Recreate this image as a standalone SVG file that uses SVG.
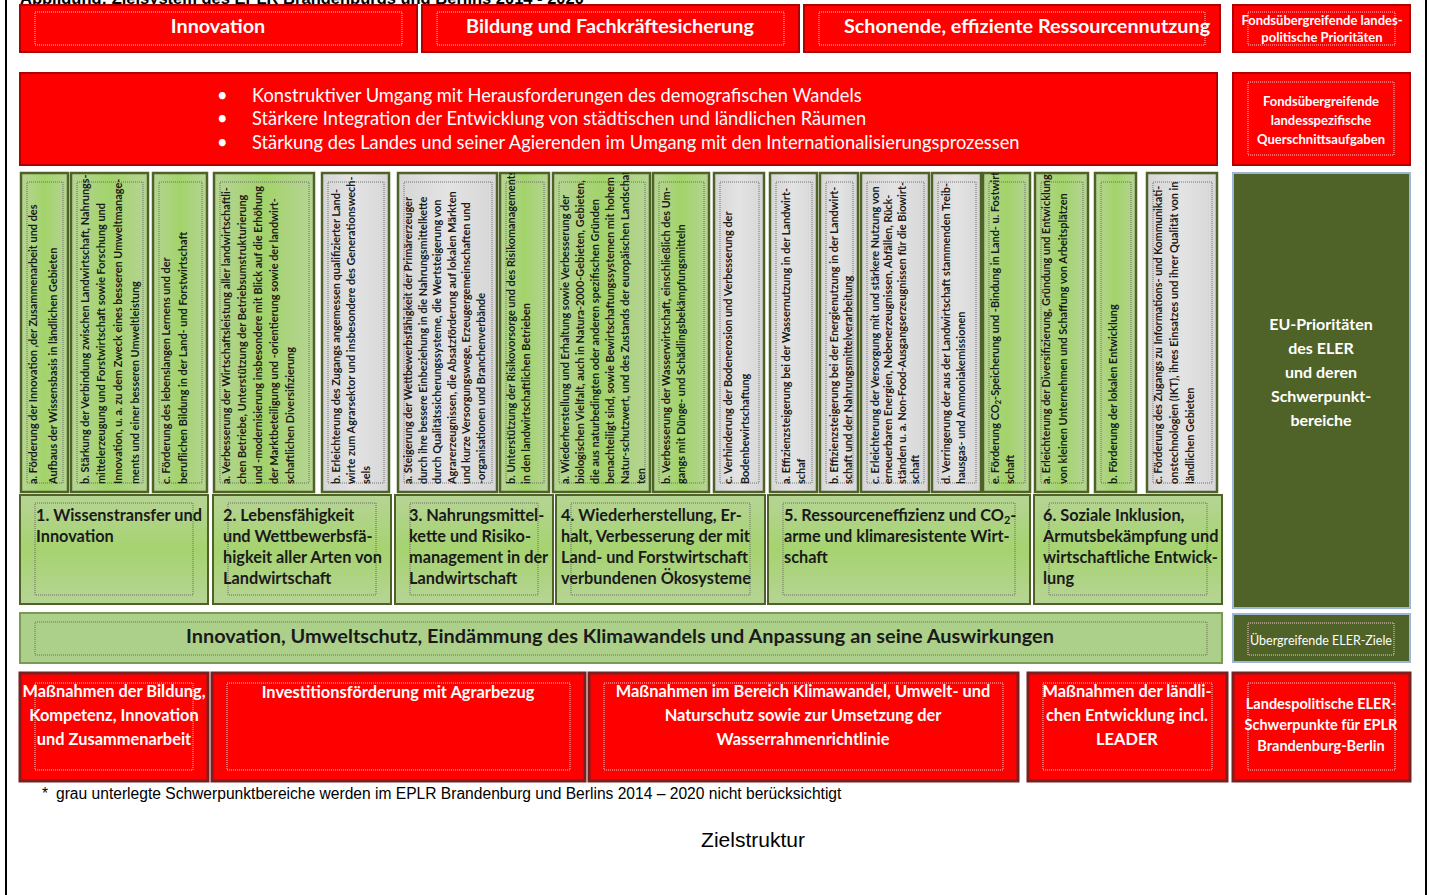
<svg xmlns="http://www.w3.org/2000/svg" width="1429" height="895" viewBox="0 0 1429 895">
<style>
.f{font-family:Lato,"Open Sans","Liberation Sans",sans-serif}
.red{fill:#ff0000;stroke:#b00000;stroke-width:2}
.redb{fill:#ff0000;stroke:#7b2020;stroke-width:3}
.dotw{fill:none;stroke:#f5cccc;stroke-width:1;stroke-dasharray:1 1}
.dotk{fill:none;stroke:#555;stroke-width:0.8;stroke-dasharray:1 1}
.cg{fill:url(#gh);stroke:#4f6228;stroke-width:2.5}
.cy{fill:url(#gy);stroke:#4f6228;stroke-width:2.5}
.pg{fill:url(#gv);stroke:#4f6228;stroke-width:2}
.wt{fill:#fff}
.dk{fill:#1a1a1a}
.vt{font-family:Lato,"Open Sans","Liberation Sans",sans-serif;font-weight:700;font-size:10.9px;fill:#1a1a1a}
.hd{font-size:19.8px;font-weight:700;text-anchor:middle}
.pt{font-size:16.3px;font-weight:700}
.bt{font-size:16.4px;font-weight:700;text-anchor:middle}
.sm{font-size:13px;font-weight:700;text-anchor:middle}
</style>
<defs>
<linearGradient id="gh" x1="0" x2="1" y1="0" y2="0"><stop offset="0" stop-color="#b6d495"/><stop offset="0.5" stop-color="#a3d36b"/><stop offset="1" stop-color="#b6d495"/></linearGradient>
<linearGradient id="gv" x1="0" x2="0" y1="0" y2="1"><stop offset="0" stop-color="#b6d495"/><stop offset="0.5" stop-color="#a6d370"/><stop offset="1" stop-color="#b6d495"/></linearGradient>
<linearGradient id="gy" x1="0" x2="1" y1="0" y2="0"><stop offset="0" stop-color="#d6d6d6"/><stop offset="0.5" stop-color="#e3e3e3"/><stop offset="1" stop-color="#d6d6d6"/></linearGradient>
</defs>
<rect x="0" y="0" width="1429" height="895" fill="#fff"/>
<rect x="6" y="-10" width="1420" height="920" fill="none" stroke="#000" stroke-width="2"/>
<text x="20" y="4" font-family="Liberation Sans, Arial, sans-serif" font-size="16.5" font-weight="700" fill="#000">Abbildung: Zielsystem des EPLR Brandenburgs und Berlins 2014 - 2020</text>

<g id="top-innovation"><rect class="red" x="20" y="5" width="397" height="47"/><rect class="dotw" x="35" y="12" width="367" height="33"/><text class="f wt hd" x="218" y="33">Innovation</text></g>
<g id="top-bildung"><rect class="red" x="422" y="5" width="377" height="47"/><rect class="dotw" x="437" y="12" width="347" height="33"/><text class="f wt hd" x="610" y="33">Bildung und Fachkräftesicherung</text></g>
<g id="top-ressourcen"><rect class="red" x="804" y="5" width="416" height="47"/><rect class="dotw" x="819" y="12" width="386" height="33"/><text class="f wt hd" x="1027" y="33">Schonende, effiziente Ressourcennutzung</text></g>
<g id="lbl-prioritaeten"><rect class="red" x="1233" y="5" width="177" height="47"/><rect class="dotw" x="1248" y="12" width="147" height="33"/><text class="f wt sm" x="1322" y="24.5">Fondsübergreifende  landes-</text><text class="f wt sm" x="1322" y="41.5">politische Prioritäten</text></g>

<g id="querschnitt"><rect class="red" x="20" y="73" width="1197" height="92"/>
<g class="f wt" font-size="18.3">
<text x="217" y="102">•</text><text x="252" y="102">Konstruktiver Umgang mit Herausforderungen des demografischen Wandels</text>
<text x="217" y="125">•</text><text x="252" y="125">Stärkere Integration der Entwicklung von städtischen und ländlichen Räumen</text>
<text x="217" y="149">•</text><text x="252" y="149">Stärkung des Landes und seiner Agierenden im Umgang mit den Internationalisierungsprozessen</text>
</g></g>
<g id="lbl-querschnitt"><rect class="red" x="1233" y="73" width="177" height="92"/><rect class="dotw" x="1248" y="82" width="146" height="73"/><text class="f wt sm" x="1321" y="105.5">Fondsübergreifende</text><text class="f wt sm" x="1321" y="124.5">landesspezifische</text><text class="f wt sm" x="1321" y="143.5">Querschnittsaufgaben</text></g>

<g id="sb-1a"><rect class="cg" x="21" y="173" width="47" height="319"/><rect class="dotk" x="27" y="182" width="36" height="301"/><svg x="21" y="173" width="47" height="319"><text class="vt" transform="translate(16,311) rotate(-90)"><tspan x="0" y="0">a. Förderung der Innovation ,der Zusammenarbeit und des</tspan><tspan x="0" y="20">Aufbaus der Wissensbasis in ländlichen Gebieten</tspan></text></svg></g>
<g id="sb-1b"><rect class="cg" x="71" y="173" width="77" height="319"/><rect class="dotk" x="77" y="182" width="66" height="301"/><svg x="71" y="173" width="77" height="319"><text class="vt" transform="translate(17.5,311) rotate(-90)"><tspan x="0" y="0">b. Stärkung der Verbindung  zwischen Landwirtschaft, Nahrungs-</tspan><tspan x="0" y="16.7">mittelerzeugung und Forstwirtschaft sowie Forschung und</tspan><tspan x="0" y="33.4">Innovation, u. a. zu dem Zweck eines besseren Umweltmanage-</tspan><tspan x="0" y="50.1">ments und einer besseren Umweltleistung</tspan></text></svg></g>
<g id="sb-1c"><rect class="cg" x="153" y="173" width="54" height="319"/><rect class="dotk" x="159" y="182" width="43" height="301"/><svg x="153" y="173" width="54" height="319"><text class="vt" transform="translate(17,311) rotate(-90)"><tspan x="0" y="0">c. Förderung des lebenslangen Lernens und der</tspan><tspan x="0" y="17">beruflichen Bildung in der Land- und Forstwirtschaft</tspan></text></svg></g>
<g id="sb-2a"><rect class="cg" x="214" y="173" width="100" height="319"/><rect class="dotk" x="220" y="182" width="89" height="301"/><svg x="214" y="173" width="100" height="319"><text class="vt" transform="translate(16,311) rotate(-90)"><tspan x="0" y="0">a. Verbesserung der Wirtschaftsleistung aller landwirtschaftli-</tspan><tspan x="0" y="16">chen Betriebe, Unterstützung der Betriebsumstrukturierung</tspan><tspan x="0" y="32">und -modernisierung insbesondere mit Blick auf die Erhöhung</tspan><tspan x="0" y="48">der Marktbeteiligung und -orientierung sowie der landwirt-</tspan><tspan x="0" y="64">schaftlichen Diversifizierung</tspan></text></svg></g>
<g id="sb-2b"><rect class="cy" x="322" y="173" width="67" height="319"/><rect class="dotk" x="328" y="182" width="56" height="301"/><svg x="322" y="173" width="67" height="319"><text class="vt" transform="translate(18,311) rotate(-90)"><tspan x="0" y="0">b. Erleichterung des Zugangs angemessen qualifizierter Land-</tspan><tspan x="0" y="15">wirte zum Agrarsektor und insbesondere des Generationswech-</tspan><tspan x="0" y="30">sels</tspan></text></svg></g>
<g id="sb-3a"><rect class="cy" x="398" y="173" width="99" height="319"/><rect class="dotk" x="404" y="182" width="88" height="301"/><svg x="398" y="173" width="99" height="319"><text class="vt" transform="translate(14,311) rotate(-90)"><tspan x="0" y="0">a. Steigerung der Wettbewerbsfähigkeit der Primärerzeuger</tspan><tspan x="0" y="14.5">durch ihre bessere Einbeziehung in die Nahrungsmittelkette</tspan><tspan x="0" y="29">durch Qualitätssicherungssysteme, die Wertsteigerung von</tspan><tspan x="0" y="43.5">Agrarerzeugnissen, die Absatzförderung  auf lokalen Märkten</tspan><tspan x="0" y="58">und kurze Versorgungswege, Erzeugergemeinschaften und</tspan><tspan x="0" y="72.5">-organisationen und Branchenverbände</tspan></text></svg></g>
<g id="sb-3b"><rect class="cg" x="500" y="173" width="49" height="319"/><rect class="dotk" x="506" y="182" width="38" height="301"/><svg x="500" y="173" width="49" height="319"><text class="vt" transform="translate(15,311) rotate(-90)"><tspan x="0" y="0">b. Unterstützung der Risikovorsorge und des Risikomanagements</tspan><tspan x="0" y="15">in den landwirtschaftlichen Betrieben</tspan></text></svg></g>
<g id="sb-4a"><rect class="cg" x="553" y="173" width="97" height="319"/><rect class="dotk" x="559" y="182" width="86" height="301"/><svg x="553" y="173" width="97" height="319"><text class="vt" transform="translate(15.5,311) rotate(-90)"><tspan x="0" y="0">a. Wiederherstellung und Erhaltung sowie Verbesserung der</tspan><tspan x="0" y="15.2">biologischen Vielfalt, auch in Natura-2000-Gebieten, Gebieten,</tspan><tspan x="0" y="30.4">die aus naturbedingten oder anderen spezifischen Gründen</tspan><tspan x="0" y="45.6">benachteiligt sind, sowie Bewirtschaftungssystemen mit hohem</tspan><tspan x="0" y="60.8">Natur-schutzwert, und des Zustands der europäischen Landschaf-</tspan><tspan x="0" y="76">ten</tspan></text></svg></g>
<g id="sb-4b"><rect class="cg" x="653" y="173" width="56" height="319"/><rect class="dotk" x="659" y="182" width="45" height="301"/><svg x="653" y="173" width="56" height="319"><text class="vt" transform="translate(17,311) rotate(-90)"><tspan x="0" y="0">b. Verbesserung der Wasserwirtschaft, einschließlich des Um-</tspan><tspan x="0" y="15">gangs mit Dünge- und Schädlingsbekämpfungsmitteln</tspan></text></svg></g>
<g id="sb-4c"><rect class="cy" x="714" y="173" width="50" height="319"/><rect class="dotk" x="720" y="182" width="39" height="301"/><svg x="714" y="173" width="50" height="319"><text class="vt" transform="translate(18,311) rotate(-90)"><tspan x="0" y="0">c. Verhinderung der Bodenerosion und Verbesserung der</tspan><tspan x="0" y="16.5">Bodenbewirtschaftung</tspan></text></svg></g>
<g id="sb-5a"><rect class="cy" x="770" y="173" width="47" height="319"/><rect class="dotk" x="776" y="182" width="36" height="301"/><svg x="770" y="173" width="47" height="319"><text class="vt" transform="translate(20,311) rotate(-90)"><tspan x="0" y="0">a. Effizienzsteigerung bei der Wassernutzung in der Landwirt-</tspan><tspan x="0" y="15">schaf</tspan></text></svg></g>
<g id="sb-5b"><rect class="cy" x="820" y="173" width="38" height="319"/><rect class="dotk" x="826" y="182" width="27" height="301"/><svg x="820" y="173" width="38" height="319"><text class="vt" transform="translate(17.5,311) rotate(-90)"><tspan x="0" y="0">b. Effizienzsteigerung bei der Energienutzung in der Landwirt-</tspan><tspan x="0" y="14.5">schaft und der Nahrungsmittelverarbeitung</tspan></text></svg></g>
<g id="sb-5c"><rect class="cy" x="861" y="173" width="68" height="319"/><rect class="dotk" x="867" y="182" width="57" height="301"/><svg x="861" y="173" width="68" height="319"><text class="vt" font-size="10.4" transform="translate(17.5,311) rotate(-90)"><tspan x="0" y="0">c. Erleichterung der Versorgung mit und stärkere  Nutzung von</tspan><tspan x="0" y="13.5">erneuerbaren Energien,  Nebenerzeugnissen, Abfällen, Rück-</tspan><tspan x="0" y="27">ständen u. a. Non-Food-Ausgangserzeugnissen für die Biowirt-</tspan><tspan x="0" y="40.5">schaft</tspan></text></svg></g>
<g id="sb-5d"><rect class="cy" x="932" y="173" width="49" height="319"/><rect class="dotk" x="938" y="182" width="38" height="301"/><svg x="932" y="173" width="49" height="319"><text class="vt" transform="translate(18,311) rotate(-90)"><tspan x="0" y="0">d. Verringerung der aus der Landwirtschaft stammenden Treib-</tspan><tspan x="0" y="15">hausgas- und Ammoniakemissionen</tspan></text></svg></g>
<g id="sb-5e"><rect class="cg" x="983" y="173" width="47" height="319"/><rect class="dotk" x="989" y="182" width="36" height="301"/><svg x="983" y="173" width="47" height="319"><text class="vt" transform="translate(15.5,311) rotate(-90)"><tspan x="0" y="0">e. Förderung CO<tspan font-size="8" dy="2">2</tspan><tspan dy="-2">-Speicherung und -Bindung in Land- u. Fostwirt-</tspan></tspan><tspan x="0" y="15">schaft</tspan></text></svg></g>
<g id="sb-6a"><rect class="cg" x="1035" y="173" width="53" height="319"/><rect class="dotk" x="1041" y="182" width="42" height="301"/><svg x="1035" y="173" width="53" height="319"><text class="vt" transform="translate(15,311) rotate(-90)"><tspan x="0" y="0">a. Erleichterung der Diversifizierung, Gründung und Entwicklung</tspan><tspan x="0" y="17">von kleinen Unternehmen und Schaffung von Arbeitsplätzen</tspan></text></svg></g>
<g id="sb-6b"><rect class="cg" x="1095" y="173" width="41" height="319"/><rect class="dotk" x="1101" y="182" width="30" height="301"/><svg x="1095" y="173" width="41" height="319"><text class="vt" transform="translate(22,311) rotate(-90)"><tspan x="0" y="0">b. Förderung der lokalen Entwicklung</tspan></text></svg></g>
<g id="sb-6c"><rect class="cy" x="1147" y="173" width="70" height="319"/><rect class="dotk" x="1153" y="182" width="59" height="301"/><svg x="1147" y="173" width="70" height="319"><text class="vt" transform="translate(15,311) rotate(-90)"><tspan x="0" y="0">c. Förderung des Zugangs zu Informations- und Kommunikati-</tspan><tspan x="0" y="16">onstechnologien (IKT), ihres Einsatzes und ihrer Qualität von in</tspan><tspan x="0" y="31.5">ländlichen Gebieten</tspan></text></svg></g>

<g id="eu-prioritaeten"><rect x="1233" y="173" width="177" height="435" fill="#4f6228" stroke="#9cb6d8" stroke-width="2"/>
<g class="f wt" font-size="16" font-weight="700" text-anchor="middle"><text x="1321" y="330">EU-Prioritäten</text><text x="1321" y="354">des ELER</text><text x="1321" y="378">und deren</text><text x="1321" y="402">Schwerpunkt-</text><text x="1321" y="426">bereiche</text></g></g>

<g id="p1"><rect class="pg" x="20" y="495" width="188" height="109"/><rect class="dotk" x="35" y="503" width="158" height="92"/><g class="f dk pt"><text x="36" y="521">1. Wissenstransfer und</text><text x="36" y="542">Innovation</text></g></g>
<g id="p2"><rect class="pg" x="213" y="495" width="178" height="109"/><rect class="dotk" x="228" y="503" width="148" height="92"/><g class="f dk pt"><text x="223" y="521">2. Lebensfähigkeit</text><text x="223" y="542">und Wettbewerbsfä-</text><text x="223" y="563">higkeit aller Arten von</text><text x="223" y="584">Landwirtschaft</text></g></g>
<g id="p3"><rect class="pg" x="395" y="495" width="158" height="109"/><rect class="dotk" x="410" y="503" width="128" height="92"/><g class="f dk pt"><text x="409" y="521">3. Nahrungsmittel-</text><text x="409" y="542">kette und Risiko-</text><text x="409" y="563">management in der</text><text x="409" y="584">Landwirtschaft</text></g></g>
<g id="p4"><rect class="pg" x="556" y="495" width="209" height="109"/><rect class="dotk" x="571" y="503" width="179" height="92"/><g class="f dk pt"><text x="561" y="521">4. Wiederherstellung, Er-</text><text x="561" y="542">halt, Verbesserung der mit</text><text x="561" y="563">Land- und Forstwirtschaft</text><text x="561" y="584">verbundenen Ökosysteme</text></g></g>
<g id="p5"><rect class="pg" x="768" y="495" width="262" height="109"/><rect class="dotk" x="783" y="503" width="232" height="92"/><g class="f dk pt"><text x="784" y="521">5. Ressourceneffizienz und CO<tspan font-size="11" dy="3">2</tspan><tspan dy="-3">-</tspan></text><text x="784" y="542">arme und klimaresistente  Wirt-</text><text x="784" y="563">schaft</text></g></g>
<g id="p6"><rect class="pg" x="1034" y="495" width="188" height="109"/><rect class="dotk" x="1049" y="503" width="158" height="92"/><g class="f dk pt"><text x="1043" y="521">6. Soziale Inklusion,</text><text x="1043" y="542">Armutsbekämpfung und</text><text x="1043" y="563">wirtschaftliche Entwick-</text><text x="1043" y="584">lung</text></g></g>

<g id="eler-ziele"><rect x="20" y="613" width="1202" height="50" fill="#acd08a" stroke="#7a9a58" stroke-width="2"/><rect class="dotk" x="35" y="622" width="1172" height="33"/><text class="f dk" x="620" y="643" font-size="19.9" font-weight="700" text-anchor="middle">Innovation, Umweltschutz, Eindämmung des Klimawandels und Anpassung an seine Auswirkungen</text></g>
<g id="lbl-ziele"><rect x="1233" y="614" width="177" height="48" fill="#4f6228" stroke="#9cb6d8" stroke-width="2"/><rect class="dotw" x="1248" y="623" width="146" height="32" stroke="#c9d4b8"/><text class="f wt" x="1321" y="645" font-size="12.5" text-anchor="middle">Übergreifende ELER-Ziele</text></g>

<g id="m1"><rect class="redb" x="20" y="673" width="188" height="108"/><rect class="dotw" x="35" y="683" width="158" height="87"/><g class="f wt bt"><text x="114" y="697">Maßnahmen der Bildung,</text><text x="114" y="721">Kompetenz, Innovation</text><text x="114" y="745">und Zusammenarbeit</text></g></g>
<g id="m2"><rect class="redb" x="212" y="673" width="373" height="108"/><rect class="dotw" x="227" y="683" width="343" height="87"/><text class="f wt bt" x="398" y="698">Investitionsförderung mit Agrarbezug</text></g>
<g id="m3"><rect class="redb" x="589" y="673" width="429" height="108"/><rect class="dotw" x="604" y="683" width="399" height="87"/><g class="f wt bt"><text x="803" y="697">Maßnahmen im Bereich Klimawandel, Umwelt- und</text><text x="803" y="721">Naturschutz sowie zur Umsetzung der</text><text x="803" y="745">Wasserrahmenrichtlinie</text></g></g>
<g id="m4"><rect class="redb" x="1028" y="673" width="199" height="108"/><rect class="dotw" x="1043" y="683" width="169" height="87"/><g class="f wt bt"><text x="1127" y="697">Maßnahmen der ländli-</text><text x="1127" y="721">chen Entwicklung incl.</text><text x="1127" y="745">LEADER</text></g></g>
<g id="m5"><rect class="redb" x="1233" y="673" width="177" height="108"/><rect class="dotw" x="1248" y="683" width="147" height="87"/><g class="f wt" font-size="14.5" font-weight="700" text-anchor="middle"><text x="1321" y="709">Landespolitische ELER-</text><text x="1321" y="730">Schwerpunkte für EPLR</text><text x="1321" y="751">Brandenburg-Berlin</text></g></g>

<text x="42" y="799" font-family="Liberation Sans, Arial, sans-serif" font-size="15.6" fill="#000">*<tspan x="56">grau unterlegte Schwerpunktbereiche werden im EPLR Brandenburg und Berlins 2014 – 2020 nicht berücksichtigt</tspan></text>
<text x="753" y="847" font-family="Liberation Sans, Arial, sans-serif" font-size="21" text-anchor="middle" fill="#000">Zielstruktur</text>
</svg>
